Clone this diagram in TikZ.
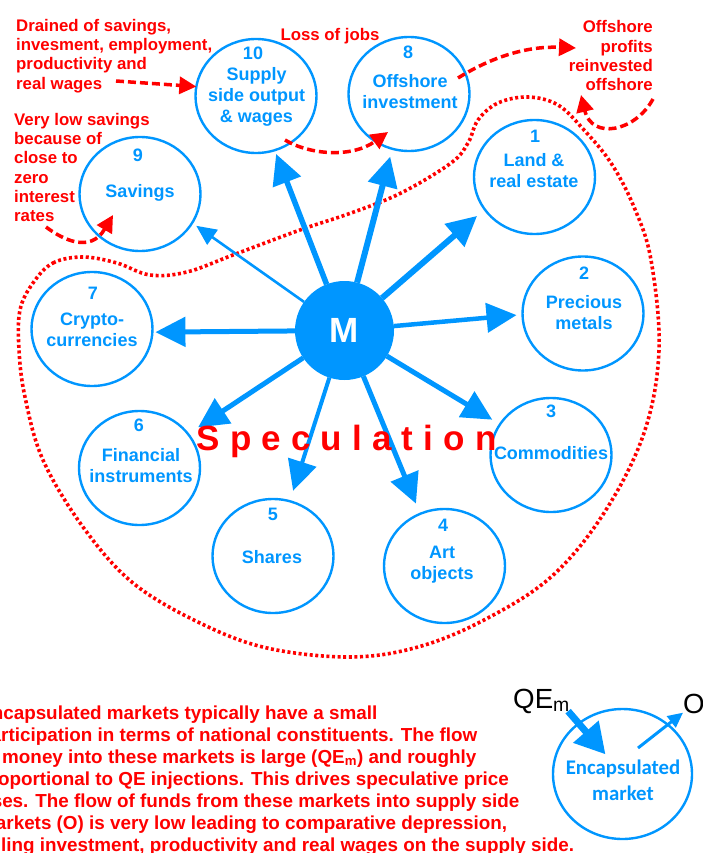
\documentclass[tikz,border=0pt]{standalone}
\usepackage{fontspec}
\setmainfont{Liberation Sans}
\newfontfamily\encfont{Carlito}
\newfontfamily\specfont[LetterSpace=29]{Liberation Sans}
\usetikzlibrary{arrows.meta,shapes.geometric}
\definecolor{mktblue}{HTML}{0096FF}
\definecolor{mktred}{HTML}{FF0000}
\tikzset{
  market/.style={ellipse,draw=mktblue,line width=2.4pt,minimum width=121pt,minimum height=114pt,inner sep=0pt,outer sep=0pt},
  bluetext/.style={text=mktblue,font=\fontsize{18}{21}\selectfont\bfseries,align=center,inner sep=0pt},
  redtext/.style={text=mktred,font=\fontsize{16.8}{19.3}\selectfont\bfseries,inner sep=0pt},
  spoke/.style={draw=mktblue,line width=#1,-{Triangle[length=30pt,width=29pt]}},
  thinspoke/.style={draw=mktblue,line width=2.6pt,-{Triangle[length=20pt,width=18pt]}},
  reddash/.style={draw=mktred,line width=3.5pt,dash pattern=on 8pt off 4pt,-{Triangle[length=17pt,width=17pt]}},
  dotline/.style={draw=mktred,line width=3.6pt,dash pattern=on 3pt off 2.6pt},
}
\begin{document}
\begin{tikzpicture}[x=1pt,y=-1pt]
\useasboundingbox (0,0) rectangle (702,853);
\clip (0,0) rectangle (702,853);

% dotted boundary
\draw[dotline] plot[smooth cycle,tension=0.6] coordinates {
 (33,283) (53,263) (83,257) (117,263) (150,275) (187,272) (233,255) (300,230) (351,213)
 (401,193) (451,163) (468,143) (478,120) (498,103) (528,97) (558,105) (584,130) (611,163)
 (634,207) (651,260) (659,350) (644,433) (604,513) (551,577) (484,620) (418,647) (350,657)
 (267,648) (200,623) (133,583) (83,527) (43,460) (25,397) (19,350) (20,310)};

% circles
\node[market] (n10) at (256,96) {};
\node[market] (n8) at (409,94) {};
\node[market] (n9) at (140,194) {};
\node[market] (n1) at (534.5,177) {};
\node[market] (n2) at (583,313.5) {};
\node[market] (n3) at (551,455) {};
\node[market] (n4) at (444.5,566) {};
\node[market] (n5) at (273,556) {};
\node[market] (n6) at (139.5,468) {};
\node[market] (n7) at (92,329) {};
\node[circle,fill=mktblue,minimum size=99pt,inner sep=0pt,outer sep=0pt,text=white,font=\fontsize{35}{35}\selectfont\bfseries] (M) at (344.5,330.5) {M};

% spokes
\draw[spoke=5.5pt,shorten >=4pt] (M) -- (n10.-71);
\draw[spoke=6pt,shorten >=8pt] (M) -- (n8.-107);
\draw[thinspoke,shorten >=5pt] (M) -- (n9.-29);
\draw[spoke=6pt,shorten >=10pt] (M) -- (n1.213.5);
\draw[spoke=4.5pt,shorten >=6pt] (M) -- (n2.181);
\draw[spoke=5pt,shorten >=9pt] (M) -- (n3.149);
\draw[spoke=5pt,shorten >=11pt] (M) -- (n4.115);
\draw[spoke=4pt,shorten >=11pt] (M) -- (n5.73);
\draw[spoke=5pt,shorten >=12pt] (M) -- (n6.35.5);
\draw[spoke=5pt,shorten >=3pt] (M) -- (n7.-3.6);

% circle labels
\node[bluetext] (l10) at (253,53) {10};
\node[bluetext] (t10) at (256.5,97) {Supply\\ side output\\ \& wages};
\node[bluetext] (l8) at (408,52) {8};
\node[bluetext] (t8) at (410,92) {Offshore\\ investment};
\node[bluetext] (l9) at (138,155) {9};
\node[bluetext] (t9) at (140,193) {Savings};
\node[bluetext] (l1) at (535,136) {1};
\node[bluetext] (t1) at (534,170.5) {Land \&\\ real estate};
\node[bluetext] (l2) at (584,273) {2};
\node[bluetext] (t2) at (584,312.5) {Precious\\ metals};
\node[bluetext] (l3) at (551,411) {3};
\node[bluetext] (t3) at (551,453) {Commodities};
\node[bluetext] (l4) at (443,525) {4};
\node[bluetext] (t4) at (442,564.5) {Art\\ objects};
\node[bluetext] (l5) at (273,514) {5};
\node[bluetext] (t5) at (272,557) {Shares};
\node[bluetext] (l6) at (139,425) {6};
\node[bluetext] (t6) at (141,465.5) {Financial\\ instruments};
\node[bluetext] (l7) at (93,293) {7};
\node[bluetext] (t7) at (92,329.5) {Crypto-\\ currencies};

% red annotations
\node[redtext,align=left,anchor=north west] (drained) at (16,19) {Drained of savings,\\ invesment, employment,\\ productivity and\\ real wages};
\node[redtext,align=left,anchor=north west] (verylow) at (14,113) {Very low savings\\ because of\\ close to\\ zero\\ interest\\ rates};
\node[redtext,anchor=center] (loss) at (330,36.5) {Loss of jobs};
\node[redtext,align=right,anchor=north east] (profits) at (653,20.5) {Offshore\\ profits\\ reinvested\\ offshore};

% red dashed connectors
\coordinate (drainedend) at (116,81);
\draw[reddash] (drainedend) -- (n10.171);
\coordinate (lowstart) at (46,227);
\coordinate (lowtip) at (113,215);
\draw[reddash] (lowstart) .. controls (62,239) and (90,254) .. (lowtip);
\coordinate (lossstart) at (285,140);
\coordinate (losstip) at (388,132);
\draw[reddash] (lossstart) .. controls (310,155) and (352,158) .. (losstip);
\coordinate (offstart) at (458,78);
\coordinate (offtip) at (576,48);
\draw[reddash] (offstart) .. controls (495,55) and (530,46) .. (offtip);
\coordinate (retstart) at (653,99);
\coordinate (rettip) at (581,95);
\draw[reddash] (retstart) .. controls (635,132) and (592,140) .. (rettip);

% speculation
\node[text=mktred,inner sep=0pt,font=\fontsize{35}{35}\selectfont\specfont\bfseries] (spec) at (346.5,441) {Speculation};

% bottom text
\node[text=mktred,font=\fontsize{18.85}{22}\selectfont\bfseries,align=left,anchor=north west,inner sep=0pt] (body) at (-21,705.5) {Encapsulated markets typically have a small\\ participation in terms of national constituents. The flow\\ of money into these markets is large (QE\textsubscript{m}) and roughly\\ proportional to QE injections. This drives speculative price\\ rises. The flow of funds from these markets into supply side\\ markets (O) is very low leading to comparative depression,\\ falling investment, productivity and real wages on the supply side.};

% small key diagram
\node[ellipse,draw=mktblue,line width=2.4pt,minimum width=139pt,minimum height=130pt,inner sep=0pt,outer sep=0pt] (enc) at (622.5,774) {};
\node[text=mktblue,font=\fontsize{20.8}{26}\selectfont\encfont\bfseries,align=center,inner sep=0pt] (enct) at (623,780) {Encapsulated\\ market};
\node[inner sep=0pt,anchor=base west,font=\fontsize{27.7}{28}\selectfont] (qe) at (513,708) {QE\textsubscript{m}};
\node[inner sep=0pt,anchor=base west,font=\fontsize{27.7}{28}\selectfont] (o) at (683,713) {O};
\draw[draw=mktblue,line width=7pt,shorten >=26pt,shorten <=-3pt,-{Triangle[length=30pt,width=32pt]}] (qe.south east) -- (enc.center);
\coordinate (outstart) at (638,748);
\draw[draw=mktblue,line width=3pt,-{Triangle[length=15pt,width=14pt]}] (outstart) -- (o.220);
\end{tikzpicture}
\end{document}
